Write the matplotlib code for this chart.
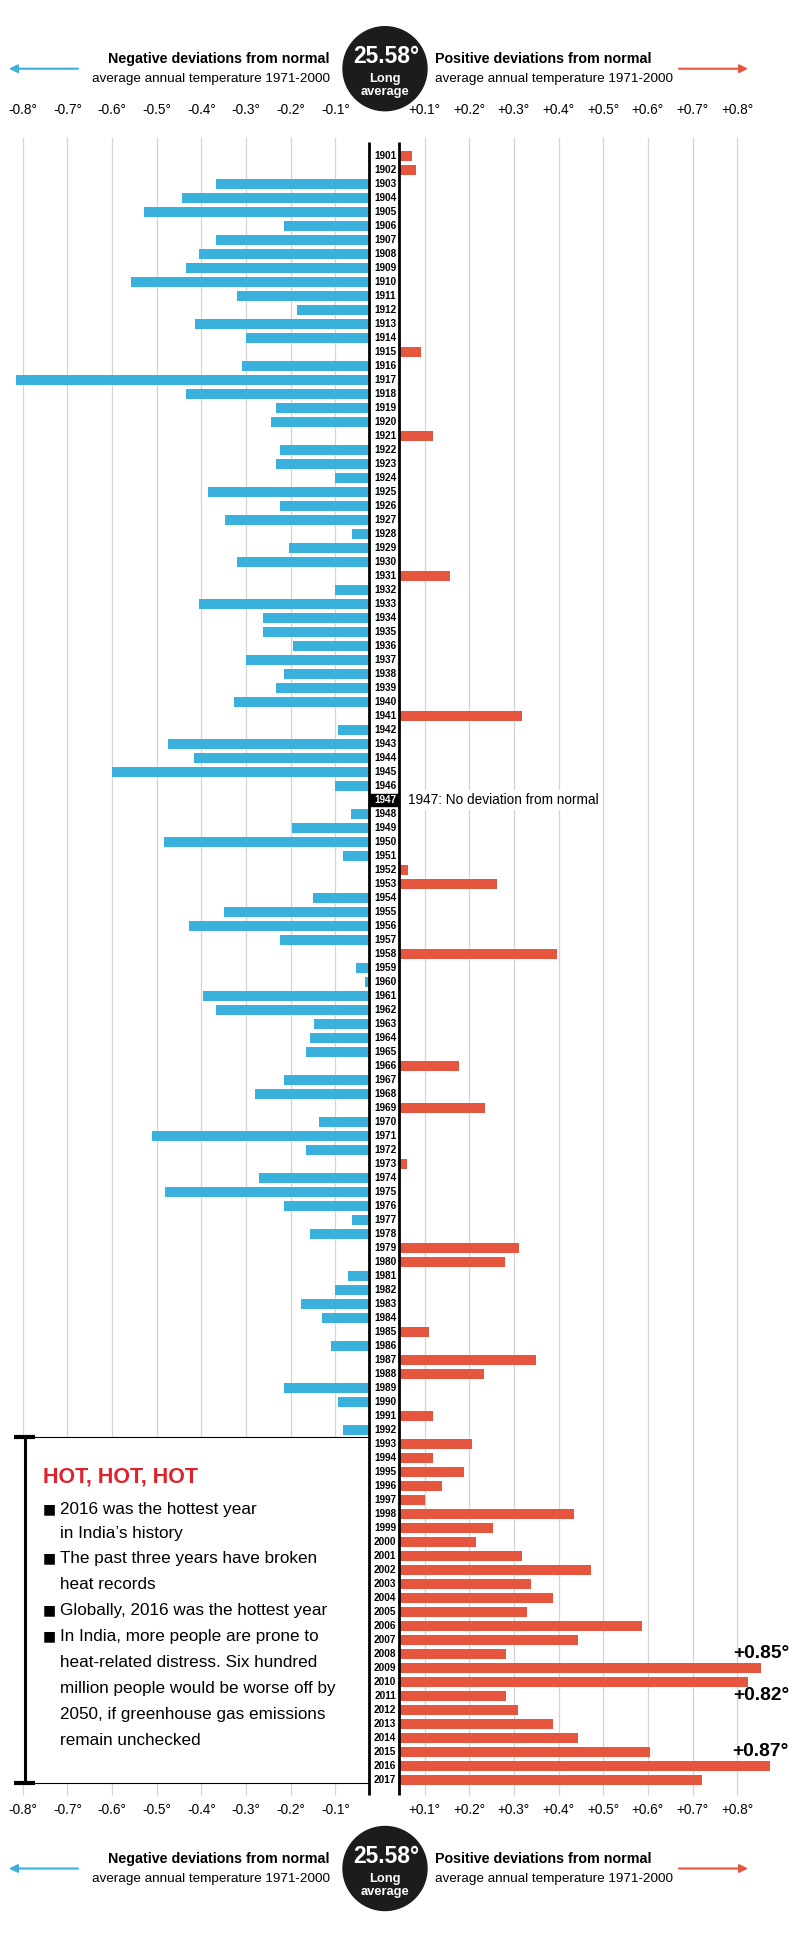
import matplotlib
matplotlib.use('Agg')
import matplotlib.pyplot as plt
from matplotlib.patches import Circle, Rectangle

# annual mean temperature deviation from the 1971-2000 normal (deg C)
years = list(range(1901, 2018))
deviation = [
    0.072, 0.081, -0.367, -0.443, -0.528, -0.214, -0.367, -0.405, -0.434, -0.558,   # 1901-1910
    -0.320, -0.185, -0.414, -0.300, 0.091, -0.310, -0.815, -0.434, -0.233, -0.243,  # 1911-1920
    0.118, -0.224, -0.233, -0.100, -0.386, -0.224, -0.348, -0.062, -0.204, -0.320,  # 1921-1930
    0.157, -0.100, -0.405, -0.262, -0.262, -0.195, -0.300, -0.214, -0.233, -0.328,  # 1931-1940
    0.319, -0.093, -0.474, -0.417, -0.600, -0.101, 0.0, -0.064, -0.198, -0.484,     # 1941-1950
    -0.082, 0.062, 0.262, -0.149, -0.350, -0.427, -0.225, 0.396, -0.053, -0.034,    # 1951-1960
    -0.397, -0.367, -0.147, -0.157, -0.166, 0.176, -0.214, -0.281, 0.234, -0.137,   # 1961-1970
    -0.510, -0.166, 0.060, -0.271, -0.481, -0.214, -0.062, -0.157, 0.311, 0.281,    # 1971-1980
    -0.071, -0.100, -0.177, -0.130, 0.109, -0.110, 0.349, 0.233, -0.215, -0.093,    # 1981-1990
    0.119, -0.082, 0.205, 0.119, 0.187, 0.139, 0.101, 0.434, 0.254, 0.215,          # 1991-2000
    0.319, 0.472, 0.339, 0.387, 0.329, 0.587, 0.444, 0.282, 0.854, 0.825,           # 2001-2010
    0.282, 0.310, 0.387, 0.444, 0.605, 0.873, 0.720,                                # 2011-2017
]
assert len(deviation) == len(years)

ticks = [-0.8, -0.7, -0.6, -0.5, -0.4, -0.3, -0.2, -0.1,
         0.1, 0.2, 0.3, 0.4, 0.5, 0.6, 0.7, 0.8]
tick_labels = ['-0.8°', '-0.7°', '-0.6°', '-0.5°', '-0.4°', '-0.3°', '-0.2°', '-0.1°',
               '+0.1°', '+0.2°', '+0.3°', '+0.4°', '+0.5°', '+0.6°', '+0.7°', '+0.8°']

callout_years = [2008, 2011, 2015]
callout_labels = ['+0.85°', '+0.82°', '+0.87°']

box_title = 'HOT, HOT, HOT'
box_lines = ['2016 was the hottest year', 'in India’s history',
             'The past three years have broken', 'heat records',
             'Globally, 2016 was the hottest year',
             'In India, more people are prone to', 'heat-related distress. Six hundred',
             'million people would be worse off by', '2050, if greenhouse gas emissions',
             'remain unchecked']
box_bullet = [True, False, True, False, True, True, False, False, False, False]

BLUE = '#3AB0DC'
RED = '#E6553D'
GRID = '#d4d4d4'
FONT = ['Liberation Sans', 'DejaVu Sans']

W, H = 800, 1934
X0, XPX = 380, 446.6      # pixel of zero, pixels per degree
Y0, ROW = 156, 14.0       # pixel of 1901 row, row pitch
BAND_L, BAND_R = -0.024, 0.0425

fig = plt.figure(figsize=(W / 100, H / 100), dpi=100)
fig.patch.set_facecolor('white')

# ---- bar chart, in data units ----
ax = fig.add_axes([0, 0, 1, 1])
ax.set_xlim(-X0 / XPX, (W - X0) / XPX)
ax.set_ylim((H - Y0) / ROW, -Y0 / ROW)
ax.axis('off')

rows = list(range(len(years)))
ax.vlines(ticks, -1.38, 117.07, color=GRID, lw=0.9, zorder=1)

neg_rows = [r for r, v in zip(rows, deviation) if v < 0]
neg_vals = [v for v in deviation if v < 0]
pos_rows = [r for r, v in zip(rows, deviation) if v > 0]
pos_vals = [v for v in deviation if v > 0]
ax.barh(neg_rows, [v - BAND_L for v in neg_vals], left=BAND_L, height=0.72,
        color=BLUE, zorder=2)
ax.barh(pos_rows, [v - BAND_R for v in pos_vals], left=BAND_R, height=0.72,
        color=RED, zorder=2)

ax.vlines([BAND_L, BAND_R], -1.02, 117.07, color='black', lw=2, zorder=4)

mid = (BAND_L + BAND_R) / 2 + 0.002
for r, y in zip(rows, years):
    if y == 1947:
        ax.add_patch(Rectangle((BAND_L, r - 0.42), BAND_R - BAND_L, 0.84,
                               color='black', zorder=3))
        ax.text(mid, r, str(y), ha='center', va='center', fontsize=7.2,
                fontweight='bold', color='white', family=FONT, zorder=5)
        ax.text(0.062, r, '1947: No deviation from normal', ha='left', va='center',
                fontsize=9.8, family=FONT, zorder=5,
                bbox=dict(facecolor='white', edgecolor='none', pad=2))
    else:
        ax.text(mid, r, str(y), ha='center', va='center', fontsize=7.2,
                fontweight='bold', family=FONT, zorder=5)

for y, lab in zip(callout_years, callout_labels):
    ax.text(0.916, years.index(y), lab, ha='right', va='center', fontsize=13.8,
            fontweight='bold', family=FONT, zorder=5)

for t, lab in zip(ticks, tick_labels):
    for r in (-3.29, 118.14):
        ax.text(t, r, lab, ha='center', va='center', fontsize=9.8, family=FONT)

# ---- header / footer / text box, in pixels ----
ov = fig.add_axes([0, 0, 1, 1])
ov.set_xlim(0, W)
ov.set_ylim(H, 0)
ov.axis('off')


def header(yc):
    ov.add_patch(Circle((385, yc), 42, color='#1c1c1c'))
    ov.text(386, yc - 12, '25.58°', ha='center', va='center', color='white',
            fontsize=16.5, fontweight='bold', family=FONT)
    ov.text(385, yc + 10.6, 'Long', ha='center', va='center', color='white',
            fontsize=9.3, fontweight='bold', family=FONT)
    ov.text(385, yc + 23.3, 'average', ha='center', va='center', color='white',
            fontsize=9.3, fontweight='bold', family=FONT)
    ov.text(330, yc - 9.6, 'Negative deviations from normal', ha='right', va='center',
            fontsize=10.3, fontweight='bold', family=FONT)
    ov.text(330, yc + 10.6, 'average annual temperature 1971-2000', ha='right',
            va='center', fontsize=9.7, family=FONT)
    ov.text(435, yc - 9.6, 'Positive deviations from normal', ha='left', va='center',
            fontsize=10.3, fontweight='bold', family=FONT)
    ov.text(435, yc + 10.6, 'average annual temperature 1971-2000', ha='left',
            va='center', fontsize=9.7, family=FONT)
    ov.annotate('', xy=(9, yc), xytext=(78, yc),
                arrowprops=dict(arrowstyle='-|>', color=BLUE, lw=1.5,
                                mutation_scale=12, shrinkA=0, shrinkB=0))
    ov.annotate('', xy=(748, yc), xytext=(679, yc),
                arrowprops=dict(arrowstyle='-|>', color=RED, lw=1.5,
                                mutation_scale=12, shrinkA=0, shrinkB=0))


header(68.7)
header(1868.5)

# text box over the lower left of the chart
ov.add_patch(Rectangle((14, 1437.3), 354, 346, facecolor='white', edgecolor='none'))
ov.hlines([1437.3, 1783.3], 14, 368, color='black', lw=0.8)
ov.vlines(24.5, 1437.3, 1783.3, color='black', lw=2.2)
ov.hlines([1437.3, 1783.3], 14, 35, color='black', lw=3)

ov.text(43, 1477, box_title, ha='left', va='center', fontsize=15.5,
        fontweight='bold', color='#E3202A', family=FONT)
line_y = [1509.3, 1533.3, 1558.3, 1584.3, 1610.7, 1636.7, 1662.7, 1688.7, 1714.7, 1740.7]
for yy, line, b in zip(line_y, box_lines, box_bullet):
    if b:
        ov.text(49, yy, '■', ha='center', va='center', fontsize=10, family=['DejaVu Sans'])
    ov.text(60, yy, line, ha='left', va='center', fontsize=12.3, family=FONT)

fig.savefig('out.png', dpi=100, facecolor='white')
